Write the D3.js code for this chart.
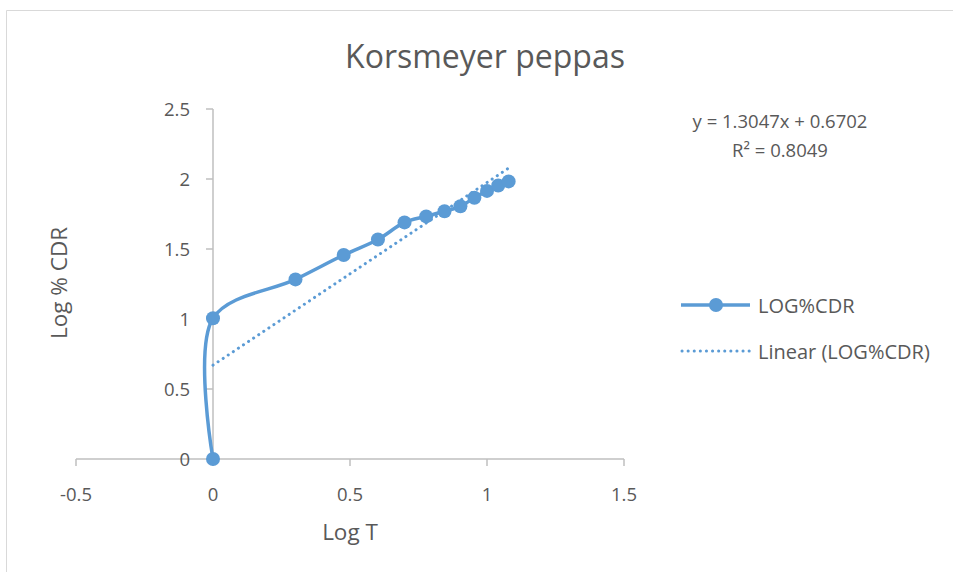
<!DOCTYPE html>
<html><head><meta charset="utf-8">
<script src="https://cdn.jsdelivr.net/npm/d3@7"></script>
<style>body{margin:0;background:#fff}svg{display:block}text{font-family:"Open Sans",Lato,sans-serif;fill:#595959}</style>
</head><body><svg id="c" width="953" height="572"></svg>
<script>
const title = "Korsmeyer peppas";
const seriesName = "LOG%CDR";
const trendName = "Linear (LOG%CDR)";
const logT = [0, 0, 0.301, 0.477, 0.602, 0.699, 0.778, 0.845, 0.903, 0.954, 1.0, 1.041, 1.079];
const logCDR = [0, 1.005, 1.283, 1.457, 1.568, 1.690, 1.733, 1.770, 1.805, 1.866, 1.915, 1.954, 1.983];
const xTicks = [-0.5, 0, 0.5, 1, 1.5];
const yTicks = [0, 0.5, 1, 1.5, 2, 2.5];
const slope = 1.3047, intercept = 0.6702, r2 = 0.8049;

const svg = d3.select("#c");
const color = "#5b9bd5";
svg.append("path").attr("d","M6.5,572 L6.5,10.5 L953,10.5").attr("fill","none").attr("stroke","#d9d9d9");

const x = d3.scaleLinear().domain([-0.5,1.5]).range([76,624]);
const y = d3.scaleLinear().domain([0,2.5]).range([459,109]);

svg.append("line").attr("x1",x(-0.5)).attr("x2",x(1.5)).attr("y1",y(0)).attr("y2",y(0)).attr("stroke","#bfbfbf").attr("stroke-width",1.5);
xTicks.forEach(t=>{
  svg.append("line").attr("x1",x(t)).attr("x2",x(t)).attr("y1",y(0)).attr("y2",y(0)+7).attr("stroke","#bfbfbf").attr("stroke-width",1.5);
  svg.append("text").attr("x",x(t)).attr("y",501).attr("text-anchor","middle").attr("font-size",18.5).text(t);
});
svg.append("line").attr("x1",x(0)).attr("x2",x(0)).attr("y1",y(0)).attr("y2",y(2.5)).attr("stroke","#bfbfbf").attr("stroke-width",1.5);
yTicks.forEach(t=>{
  svg.append("line").attr("x1",x(0)-7).attr("x2",x(0)).attr("y1",y(t)).attr("y2",y(t)).attr("stroke","#bfbfbf").attr("stroke-width",1.5);
  svg.append("text").attr("x",190).attr("y",y(t)+6.5).attr("text-anchor","end").attr("font-size",18.5).text(t);
});

svg.append("text").attr("x",485).attr("y",68).attr("text-anchor","middle").attr("font-size",32).text(title);
svg.append("text").attr("x",350).attr("y",540).attr("text-anchor","middle").attr("font-size",22.5).text("Log T");
svg.append("text").attr("transform","translate(67,283) rotate(-90)").attr("text-anchor","middle").attr("font-size",22.5).text("Log % CDR");

const xmin = d3.min(logT), xmax = d3.max(logT);
svg.append("line").attr("x1",x(xmin)).attr("y1",y(slope*xmin+intercept)).attr("x2",x(xmax)).attr("y2",y(slope*xmax+intercept))
  .attr("stroke",color).attr("stroke-width",3).attr("stroke-dasharray","0.1 6").attr("stroke-linecap","round");

const pts = logT.map((v,i)=>[v,logCDR[i]]);
const line = d3.line().x(d=>x(d[0])).y(d=>y(d[1])).curve(d3.curveCatmullRom.alpha(0.5));
svg.append("path").attr("d",line(pts)).attr("fill","none").attr("stroke",color).attr("stroke-width",3.5);
svg.selectAll("circle.pt").data(pts).enter().append("circle").attr("class","pt")
  .attr("cx",d=>x(d[0])).attr("cy",d=>y(d[1])).attr("r",7).attr("fill",color);

svg.append("text").attr("x",780).attr("y",128).attr("text-anchor","middle").attr("font-size",18.5).text(`y = ${slope}x + ${intercept}`);
svg.append("text").attr("x",780).attr("y",157).attr("text-anchor","middle").attr("font-size",18.5).text(`R² = ${r2}`);

svg.append("line").attr("x1",681).attr("x2",750).attr("y1",305).attr("y2",305).attr("stroke",color).attr("stroke-width",3.5);
svg.append("circle").attr("cx",716).attr("cy",305).attr("r",7).attr("fill",color);
svg.append("text").attr("x",758).attr("y",313).attr("font-size",20).text(seriesName);
svg.append("line").attr("x1",682).attr("x2",750).attr("y1",351).attr("y2",351).attr("stroke",color).attr("stroke-width",3).attr("stroke-dasharray","0.1 6").attr("stroke-linecap","round");
svg.append("text").attr("x",758).attr("y",359).attr("font-size",20).text(trendName);
</script></body></html>
